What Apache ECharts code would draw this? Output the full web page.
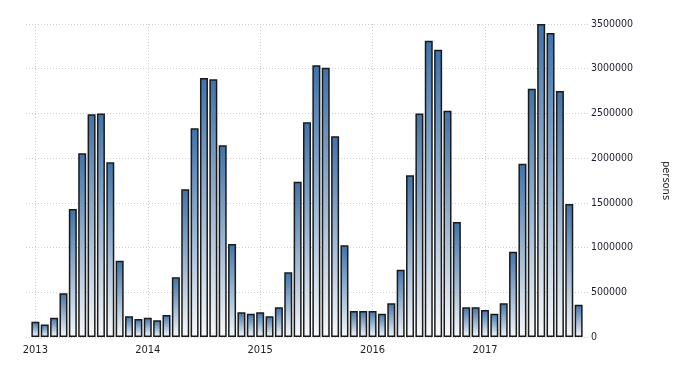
<!DOCTYPE html>
<html>
<head>
<meta charset="utf-8">
<script src="https://cdn.jsdelivr.net/npm/echarts@6/dist/echarts.min.js"></script>
<style>
html,body{margin:0;padding:0;background:#fff;}
#chart{width:700px;height:375px;}
</style>
</head>
<body>
<div id="chart"></div>
<script>
// Monthly data Jan 2013 .. Nov 2017
const months = [
  "2013-01","2013-02","2013-03","2013-04","2013-05","2013-06","2013-07","2013-08","2013-09","2013-10","2013-11","2013-12",
  "2014-01","2014-02","2014-03","2014-04","2014-05","2014-06","2014-07","2014-08","2014-09","2014-10","2014-11","2014-12",
  "2015-01","2015-02","2015-03","2015-04","2015-05","2015-06","2015-07","2015-08","2015-09","2015-10","2015-11","2015-12",
  "2016-01","2016-02","2016-03","2016-04","2016-05","2016-06","2016-07","2016-08","2016-09","2016-10","2016-11","2016-12",
  "2017-01","2017-02","2017-03","2017-04","2017-05","2017-06","2017-07","2017-08","2017-09","2017-10","2017-11"
];
const persons = [
  170000, 140000, 216000, 489000, 1431000, 2054000, 2490000, 2500000, 1953000, 853000, 231000, 201000,
  216000, 187000, 246000, 667000, 1651000, 2333000, 2896000, 2881000, 2143000, 1040000, 276000, 261000,
  276000, 231000, 332000, 723000, 1737000, 2400000, 3038000, 3012000, 2244000, 1025000, 291000, 291000,
  291000, 261000, 377000, 753000, 1808000, 2500000, 3313000, 3213000, 2531000, 1286000, 332000, 332000,
  302000, 261000, 377000, 954000, 1938000, 2777000, 3500000, 3400000, 2751000, 1487000, 361000
];
const yearLabels = ["2013","2014","2015","2016","2017"];
const yTicks = [0, 500000, 1000000, 1500000, 2000000, 2500000, 3000000, 3500000];

const yearTickIdx = yearLabels.map(y => months.indexOf(y + "-01"));
const data = persons.map((v, i) => [i, v]);

const font = "'DejaVu Sans Condensed', 'DejaVu Sans', sans-serif";
const chart = echarts.init(document.getElementById('chart'));
chart.setOption({
  animation: false,
  backgroundColor: '#ffffff',
  grid: { left: 26, right: 112, top: 24, bottom: 38, containLabel: false },
  xAxis: {
    type: 'value',
    min: -1,
    max: 59,
    axisLine: { show: false },
    axisTick: { show: false, customValues: yearTickIdx },
    axisLabel: {
      customValues: yearTickIdx,
      formatter: v => yearLabels[yearTickIdx.indexOf(v)] || '',
      color: '#1e1e1e',
      fontFamily: font,
      fontSize: 11,
      margin: 8
    },
    splitLine: { show: true, lineStyle: { color: '#cfcfcf', type: [1, 2], width: 1 } }
  },
  yAxis: {
    type: 'value',
    position: 'right',
    min: 0,
    max: 3500000,
    interval: 500000,
    name: 'persons',
    nameLocation: 'middle',
    nameRotate: -90,
    nameGap: 72,
    nameTextStyle: { color: '#1e1e1e', fontFamily: font, fontSize: 11 },
    axisLine: { show: false },
    axisTick: { show: false },
    axisLabel: {
      color: '#221c2e',
      fontFamily: font,
      fontSize: 10.5,
      margin: 3,
      formatter: v => String(v)
    },
    splitLine: { show: true, lineStyle: { color: '#cfcfcf', type: [1, 2], width: 1 } }
  },
  series: [{
    type: 'bar',
    data: data,
    barWidth: 8,
    itemStyle: {
      borderColor: '#1a1a1a',
      borderWidth: 1.5,
      color: new echarts.graphic.LinearGradient(0, 0, 0, 1, [
        { offset: 0, color: '#3f73aa' },
        { offset: 1, color: '#f7f9fb' }
      ])
    }
  }]
});
</script>
</body>
</html>
